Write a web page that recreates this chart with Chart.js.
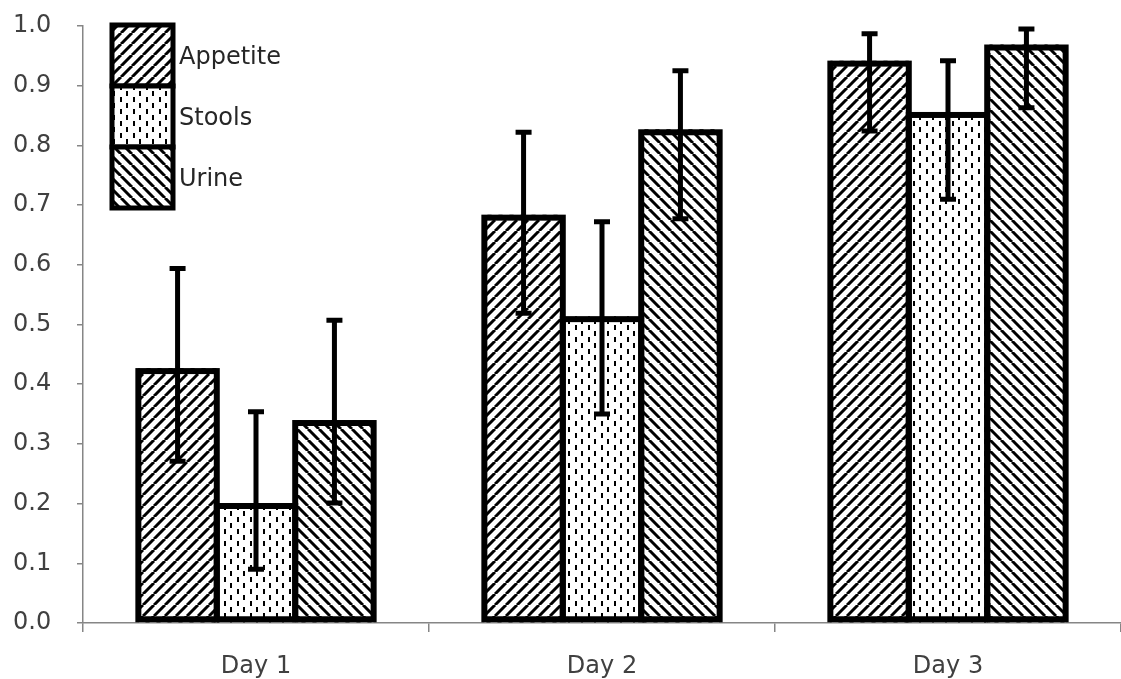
<!DOCTYPE html>
<html>
<head>
<meta charset="utf-8">
<script src="https://cdn.jsdelivr.net/npm/chart.js@4.4.0/dist/chart.umd.min.js"></script>
<style>
    html, body { margin: 0; padding: 0; background: #fff; }
    #wrap { width: 1121px; height: 679px; }
</style>
</head>
<body>
<div id="wrap"><canvas id="dayChart" width="1121" height="679"></canvas></div>
<script>

    const categories = ['Day 1', 'Day 2', 'Day 3'];
    const seriesNames = ['Appetite', 'Stools', 'Urine'];

    const appetite = [0.427, 0.684, 0.942];
    const appetiteLow = [0.271, 0.519, 0.824];
    const appetiteHigh = [0.594, 0.822, 0.987];

    const stools = [0.201, 0.514, 0.856];
    const stoolsLow = [0.090, 0.350, 0.710];
    const stoolsHigh = [0.354, 0.672, 0.942];

    const urine = [0.340, 0.827, 0.969];
    const urineLow = [0.201, 0.677, 0.863];
    const urineHigh = [0.507, 0.925, 0.995];

    const yTicks = [0, 0.1, 0.2, 0.3, 0.4, 0.5, 0.6, 0.7, 0.8, 0.9, 1.0];

    // hatch fills
    function diagPattern(forward) {
        const s = 11;
        const c = document.createElement('canvas');
        c.width = s; c.height = s;
        const g = c.getContext('2d');
        g.fillStyle = '#fff';
        g.fillRect(0, 0, s, s);
        g.strokeStyle = '#000';
        g.lineWidth = 3;
        g.beginPath();
        for (let k = -1; k <= 1; k++) {
            if (forward) {
                g.moveTo(k * s, s); g.lineTo(k * s + s, 0);
            } else {
                g.moveTo(k * s, 0); g.lineTo(k * s + s, s);
            }
        }
        g.stroke();
        return g.createPattern(c, 'repeat');
    }

    function dashPattern() {
        const w = 13, h = 12;
        const c = document.createElement('canvas');
        c.width = w; c.height = h;
        const g = c.getContext('2d');
        g.fillStyle = '#fff';
        g.fillRect(0, 0, w, h);
        g.fillStyle = '#000';
        g.fillRect(3, 1, 2, 5);
        g.fillRect(9, 7, 2, 5);
        return g.createPattern(c, 'repeat');
    }

    const fills = [diagPattern(true), dashPattern(), diagPattern(false)];
    const lows = [appetiteLow, stoolsLow, urineLow];
    const highs = [appetiteHigh, stoolsHigh, urineHigh];

    // thick outlines (shared between neighbours) + error bars
    const outlinesAndErrors = {
        id: 'outlinesAndErrors',
        afterDatasetsDraw(chart) {
            const ctx = chart.ctx;
            const y = chart.scales.y;
            const lw = 6;
            ctx.save();
            ctx.strokeStyle = '#000';
            ctx.lineJoin = 'miter';
            ctx.lineWidth = lw;
            chart.data.datasets.forEach(function (ds, i) {
                chart.getDatasetMeta(i).data.forEach(function (bar) {
                    const p = bar.getProps(['x', 'y', 'base', 'width'], true);
                    const l = p.x - p.width / 2;
                    ctx.strokeRect(l, p.y + lw / 2, p.width, p.base - p.y - lw);
                });
            });
            ctx.lineWidth = 5;
            chart.data.datasets.forEach(function (ds, i) {
                chart.getDatasetMeta(i).data.forEach(function (bar, j) {
                    const top = y.getPixelForValue(highs[i][j]);
                    const bot = y.getPixelForValue(lows[i][j]);
                    ctx.beginPath();
                    ctx.moveTo(bar.x, top);
                    ctx.lineTo(bar.x, bot);
                    ctx.moveTo(bar.x - 8, top);
                    ctx.lineTo(bar.x + 8, top);
                    ctx.moveTo(bar.x - 8, bot);
                    ctx.lineTo(bar.x + 8, bot);
                    ctx.stroke();
                });
            });
            ctx.restore();
        }
    };

    const boxLegend = {
        id: 'boxLegend',
        afterDraw(chart) {
            const ctx = chart.ctx;
            const x0 = 112, y0 = 25, bw = 61, bh = 61;
            ctx.save();
            chart.data.datasets.forEach(function (ds, i) {
                const top = y0 + i * bh;
                ctx.fillStyle = ds.backgroundColor;
                ctx.fillRect(x0, top, bw, bh);
                ctx.strokeStyle = '#000';
                ctx.lineWidth = 5;
                ctx.strokeRect(x0, top, bw, bh);
                ctx.fillStyle = '#262626';
                ctx.font = '24px "DejaVu Sans"';
                ctx.textBaseline = 'middle';
                ctx.fillText(ds.label, x0 + bw + 6, top + bh / 2 + 2);
            });
            ctx.restore();
        }
    };

    const barStyle = {
        borderWidth: 0,
        categoryPercentage: 0.68,
        barPercentage: 1.0,
        inflateAmount: 0
    };

    const chart = new Chart(document.getElementById('dayChart').getContext('2d'), {
        type: 'bar',
        data: {
            labels: categories,
            datasets: [
                Object.assign({label: seriesNames[0], data: appetite, backgroundColor: fills[0]}, barStyle),
                Object.assign({label: seriesNames[1], data: stools, backgroundColor: fills[1]}, barStyle),
                Object.assign({label: seriesNames[2], data: urine, backgroundColor: fills[2]}, barStyle)
            ]
        },
        options: {
            responsive: false,
            animation: false,
            devicePixelRatio: 1,
            layout: {padding: {top: 26, right: -9, left: 13, bottom: 0}},
            plugins: {
                legend: {display: false},
                tooltip: {enabled: false}
            },
            scales: {
                x: {
                    afterFit(scale) { scale.height = 56; },
                    border: {display: true, color: '#868686', width: 1.5},
                    grid: {display: true, drawOnChartArea: false, tickLength: 9, color: '#868686', lineWidth: 1.5},
                    ticks: {color: '#404040', font: {family: 'DejaVu Sans', size: 24}, padding: 20}
                },
                y: {
                    min: 0,
                    max: 1,
                    afterFit(scale) { scale.width = 70; },
                    afterBuildTicks(scale) { scale.ticks = yTicks.map(v => ({value: v})); },
                    border: {display: true, color: '#868686', width: 1.5},
                    grid: {display: true, drawOnChartArea: false, tickLength: 6, color: '#868686', lineWidth: 1.5},
                    ticks: {
                        color: '#404040',
                        font: {family: 'DejaVu Sans', size: 24},
                        padding: 4,
                        crossAlign: 'far',
                        callback: function (v) { return Number(v).toFixed(1); }
                    }
                }
            }
        },
        plugins: [outlinesAndErrors, boxLegend]
    });

</script>
</body>
</html>
